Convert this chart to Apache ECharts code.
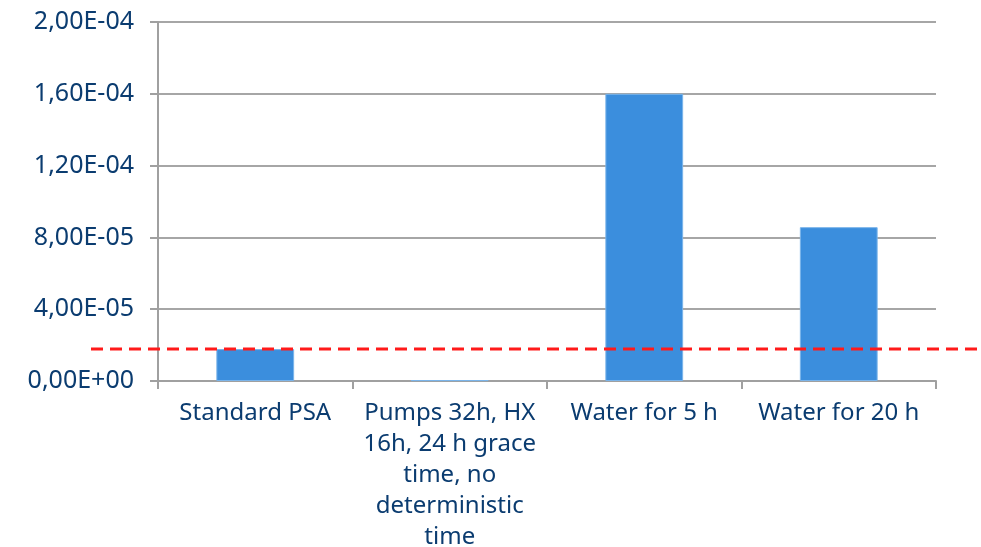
<!DOCTYPE html>
<html>
<head>
<meta charset="utf-8">
<script src="https://cdn.jsdelivr.net/npm/echarts@6/dist/echarts.min.js"></script>
<style>
  html, body { margin: 0; padding: 0; background: #fff; }
  #chart { width: 981px; height: 547px; }
</style>
</head>
<body>
<div id="chart"></div>
<script>
// data
var categories = ['Standard PSA', 'Pumps 32h, HX\n16h, 24 h grace\ntime, no\ndeterministic\ntime', 'Water for 5 h', 'Water for 20 h'];
var values = [1.78e-5, 5e-7, 1.6e-4, 8.57e-5];
var threshold = 1.78e-5; // red dashed reference line (standard PSA level)
var yMin = 0, yMax = 2e-4, yStep = 4e-5;

var textColor = '#0b3c70';
var font = '"Noto Sans", sans-serif';

// 2,00E-04 style labels
function sciLabel(v) {
    if (Math.abs(v) < 1e-12) return '0,00E+00';
    var s = v.toExponential(2).split('e');
    var exp = parseInt(s[1], 10);
    var e = (exp < 0 ? '-' : '+') + (Math.abs(exp) < 10 ? '0' : '') + Math.abs(exp);
    return s[0].replace('.', ',') + 'E' + e;
}

var myChart = echarts.init(document.getElementById('chart'));
var option = {
    animation: false,
    grid: { left: 158, right: 45, top: 22, bottom: 166, containLabel: false, outerBoundsMode: 'none' },
    xAxis: {
        type: 'category',
        data: categories,
        axisLine: { lineStyle: { color: '#a0a0a0', width: 2 } },
        axisTick: { show: true, length: 8, lineStyle: { color: '#a0a0a0', width: 2 } },
        axisLabel: {
            color: textColor, fontFamily: font, fontSize: 24,
            lineHeight: 31, margin: 17, interval: 0, align: 'center'
        }
    },
    yAxis: {
        type: 'value',
        min: yMin, max: yMax, interval: yStep,
        axisLine: { show: true, lineStyle: { color: '#a0a0a0', width: 2 } },
        axisTick: { show: true, length: 8, lineStyle: { color: '#a0a0a0', width: 2 } },
        splitLine: { lineStyle: { color: '#a6a6a6', width: 2 } },
        axisLabel: {
            color: textColor, fontFamily: font, fontSize: 25,
            margin: 24, formatter: sciLabel
        }
    },
    series: [{
        type: 'bar',
        data: values,
        barWidth: '40%',
        itemStyle: { color: '#3b8edd', borderColor: '#7ab4ea', borderWidth: 1 }
    }]
};
myChart.setOption(option);

// red dashed line runs past the plot on both sides
var yPix = myChart.convertToPixel({ yAxisIndex: 0 }, threshold);
myChart.setOption({
    graphic: [{
        type: 'line',
        shape: { x1: 91, y1: yPix, x2: 981, y2: yPix },
        style: { stroke: '#ff1a1a', lineWidth: 3, lineDash: [12, 7] },
        z: 100
    }]
});
</script>
</body>
</html>
